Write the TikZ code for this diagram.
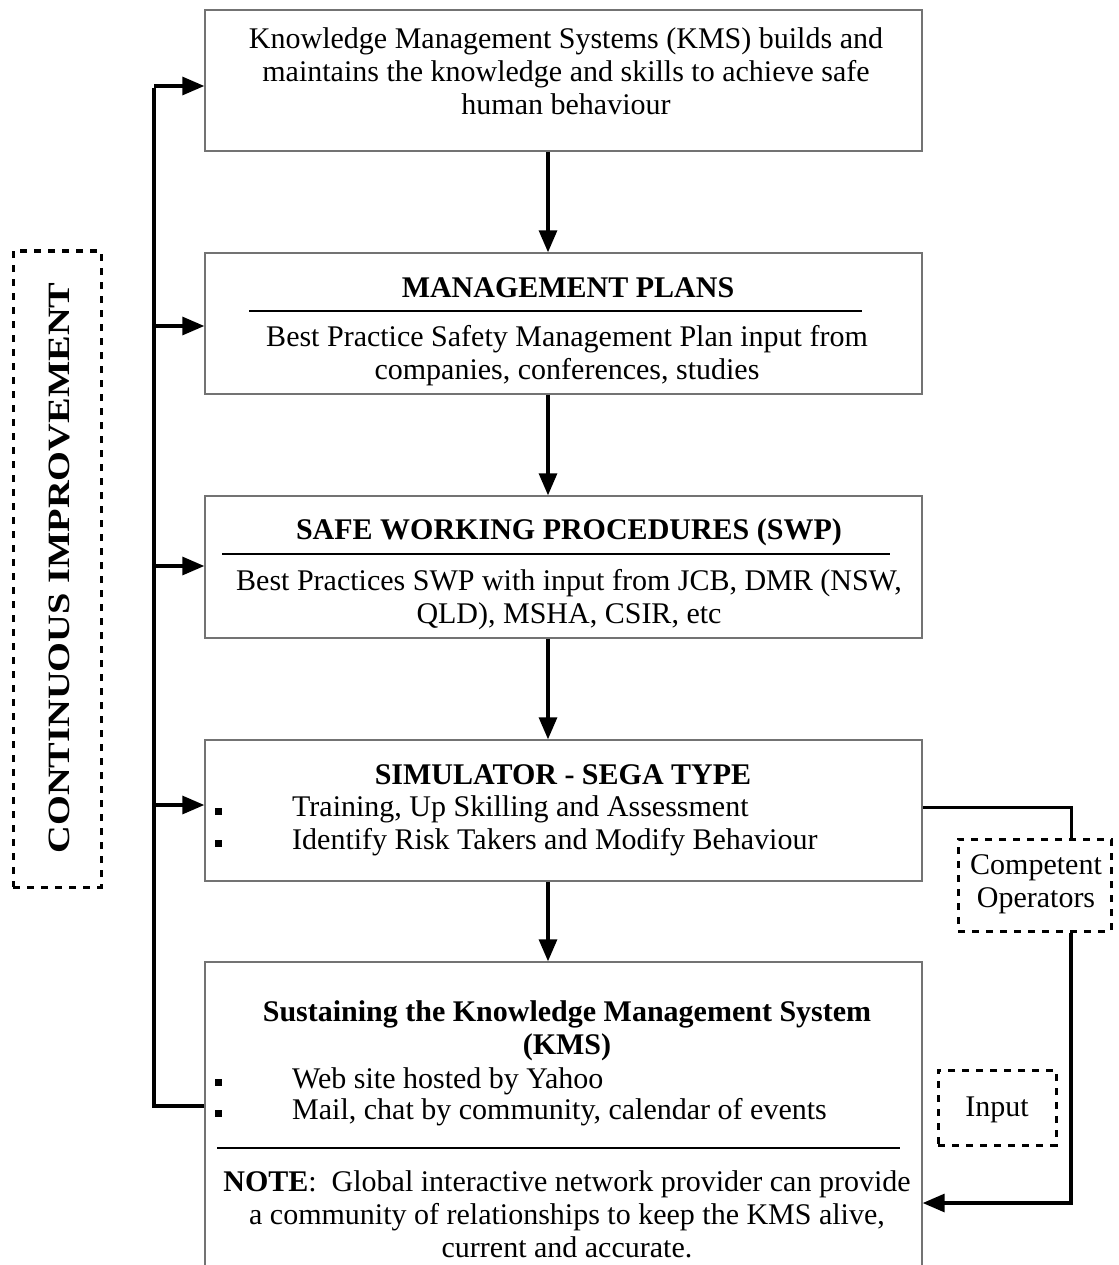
\documentclass[tikz,border=0pt]{standalone}
\usepackage{fontspec}
\setmainfont{Liberation Serif}
\usetikzlibrary{arrows.meta}
\begin{document}
\begin{tikzpicture}[x=1pt,y=-1pt,
  stage/.style={draw=black!55, line width=1.4pt, rectangle, inner sep=0pt, minimum width=717pt},
  txt/.style={inner sep=0pt, align=center, font=\fontsize{30}{33}\selectfont},
  hd/.style={txt, font=\fontsize{30}{33}\selectfont\bfseries},
  item/.style={inner sep=0pt, anchor=west, font=\fontsize{30}{33}\selectfont},
  bullet/.style={fill=black, inner sep=0pt, minimum size=7pt},
  rule/.style={line width=2.6pt},
  flow/.style={line width=3.2pt, -{Triangle[length=22pt,width=18pt]}},
  link/.style={line width=3pt},
  dashbox/.style={draw=black, line width=3pt, dash pattern=on 7pt off 7pt, rectangle, inner sep=0pt}]
\useasboundingbox[fill=white] (0,0) rectangle (1118,1265);

% main stages
\node[stage, minimum height=141pt] (b1) at (563.5,80.5) {};
\node[stage, minimum height=141pt] (b2) at (563.5,323.5) {};
\node[stage, minimum height=142pt] (b3) at (563.5,567) {};
\node[stage, minimum height=141pt] (b4) at (563.5,810.5) {};
\node[stage, minimum height=330pt] (b5) at (563.5,1127) {};

% stage 1
\node[txt] (t1) at (566,71) {Knowledge Management Systems (KMS) builds and\\maintains the knowledge and skills to achieve safe\\human behaviour};

% stage 2
\node[hd] (h2) at (568,288) {MANAGEMENT PLANS};
\draw[rule] (249,311) -- (862,311);
\node[txt] (t2) at (567,356) {Best Practice Safety Management Plan input from\\companies, conferences, studies};

% stage 3
\node[hd] (h3) at (569,532) {SAFE WORKING PROCEDURES (SWP)};
\draw[rule] (222,554) -- (890,554);
\node[txt] (t3) at (569,600) {Best Practices SWP with input from JCB, DMR (NSW,\\QLD), MSHA, CSIR, etc};

% stage 4
\node[hd] (h4) at (563,775) {SIMULATOR - SEGA TYPE};
\node[bullet] (p41) at (218,811) {};
\node[bullet] (p42) at (218,843) {};
\node[item] (i41) at (292,809) {Training, Up Skilling and Assessment};
\node[item] (i42) at (292,842) {Identify Risk Takers and Modify Behaviour};

% stage 5
\node[hd] (h5) at (567,1031) {Sustaining the Knowledge Management System\\(KMS)};
\node[bullet] (p51) at (218,1082) {};
\node[bullet] (p52) at (218,1113) {};
\node[item] (i51) at (292,1081) {Web site hosted by Yahoo};
\node[item] (i52) at (292,1112) {Mail, chat by community, calendar of events};
\draw[rule] (217,1148) -- (900,1148);
\node[txt] (t5) at (567,1214) {\textbf{NOTE}:\ \ Global interactive network provider can provide\\a community of relationships to keep the KMS alive,\\current and accurate.};

% side labels
\node[dashbox, minimum width=88pt, minimum height=636pt] (ci) at (57,569) {};
\node[inner sep=0pt, rotate=90, font=\fontsize{31}{33}\selectfont\bfseries] (cit) at (59,568) {\scalebox{1.24}[1]{CONTINUOUS IMPROVEMENT}};

\node[dashbox, minimum width=153pt, minimum height=92pt] (co) at (1034.5,885) {};
\node[txt] (cot) at (1036,884) {Competent\\Operators};

\node[dashbox, minimum width=118pt, minimum height=75pt] (in) at (997,1107.5) {};
\node[txt] (int) at (997,1110) {Input};

% downward flow
\coordinate (ax) at (548,0);
\draw[flow] (b1.south -| ax) -- (b2.north -| ax);
\draw[flow] (b2.south -| ax) -- (b3.north -| ax);
\draw[flow] (b3.south -| ax) -- (b4.north -| ax);
\draw[flow] (b4.south -| ax) -- (b5.north -| ax);

% continuous improvement loop
\coordinate (lb) at (154,1106);
\coordinate (l1) at (154,86);
\coordinate (l2) at (154,326);
\coordinate (l3) at (154,566);
\coordinate (l4) at (154,805);
\draw[line width=3.8pt] (b5.west |- lb) -- (lb) -- ([yshift=-1.6pt]l1);
\draw[flow] (l1) -- (b1.west |- l1);
\draw[flow] (l2) -- (b2.west |- l2);
\draw[flow] (l3) -- (b3.west |- l3);
\draw[flow] (l4) -- (b4.west |- l4);

% competent operators feedback
\coordinate (rx) at (1071,0);
\coordinate (r1) at (0,807);
\coordinate (r2) at (0,1203);
\draw[link] (b4.east |- r1) -| (co.north -| rx);
\draw[flow] (co.south -| rx) |- (b5.east |- r2);
\end{tikzpicture}
\end{document}
